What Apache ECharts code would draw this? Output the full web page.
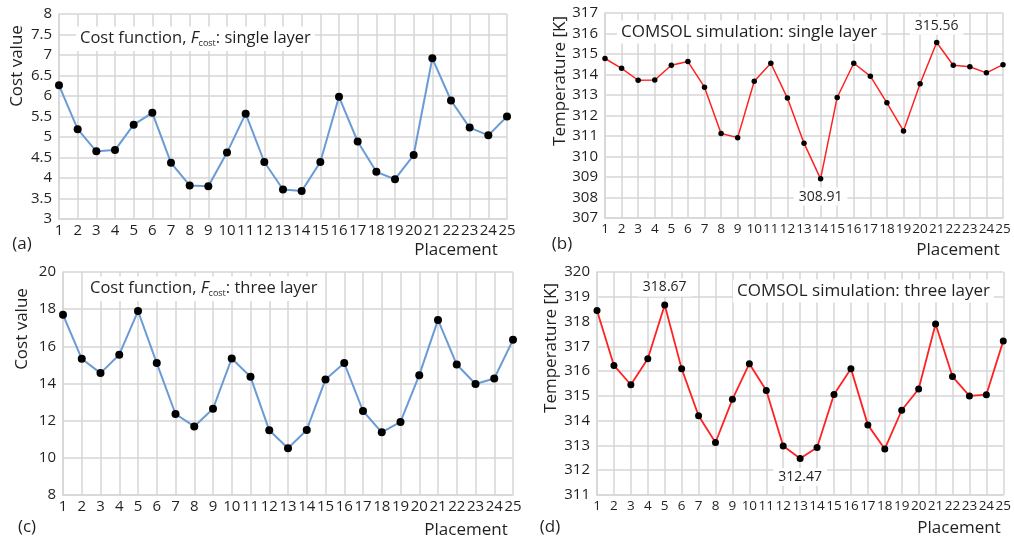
<!DOCTYPE html>
<html>
<head>
<meta charset="utf-8">
<script src="https://cdn.jsdelivr.net/npm/echarts@6/dist/echarts.min.js"></script>
<style>
  html, body { margin: 0; padding: 0; background: #fff; }
  #chart { width: 1014px; height: 538px; }
</style>
</head>
<body>
<div id="chart"></div>
<script>
// ---- data ----
const placements = ['1','2','3','4','5','6','7','8','9','10','11','12','13','14','15','16','17','18','19','20','21','22','23','24','25'];

const costSingle = [6.26, 5.19, 4.65, 4.68, 5.30, 5.59, 4.37, 3.82, 3.80, 4.62, 5.57, 4.39, 3.72, 3.68, 4.39, 5.98, 4.89, 4.15, 3.97, 4.56, 6.92, 5.89, 5.23, 5.04, 5.50];
const tempSingle = [314.78, 314.30, 313.72, 313.73, 314.45, 314.63, 313.38, 311.12, 310.92, 313.67, 314.55, 312.85, 310.65, 308.91, 312.88, 314.55, 313.92, 312.62, 311.25, 313.55, 315.56, 314.45, 314.38, 314.08, 314.48];
const costThree = [17.7, 15.33, 14.56, 15.55, 17.9, 15.1, 12.36, 11.69, 12.64, 15.35, 14.36, 11.48, 10.52, 11.5, 14.22, 15.1, 12.52, 11.37, 11.93, 14.45, 17.42, 15.02, 13.97, 14.27, 16.35];
const tempThree = [318.45, 316.23, 315.45, 316.5, 318.67, 316.1, 314.2, 313.12, 314.86, 316.3, 315.22, 312.98, 312.47, 312.92, 315.06, 316.1, 313.83, 312.86, 314.42, 315.28, 317.9, 315.78, 315.0, 315.05, 317.22];

// indices of annotated values (above / below)
const annotSingleAbove = [20];
const annotSingleBelow = [13];
const annotThreeAbove = [4];
const annotThreeBelow = [12];

const FONT = '"Open Sans", "Noto Sans", sans-serif';
const TXT = '#231f20';
const GRIDC = '#d6d6d6';
const BLUE = '#6a9bd6';
const RED = '#ff2222';

function annotated(values, above, below) {
  return values.map((v, i) => {
    if (above.includes(i) || below.includes(i)) {
      return {
        value: v,
        label: {
          show: true,
          position: above.includes(i) ? 'top' : 'bottom',
          distance: above.includes(i) ? 5 : 6,
          formatter: (p) => p.value.toFixed(2),
          backgroundColor: '#fff',
          padding: [2, 5],
          color: TXT,
          fontFamily: FONT,
          fontSize: 14
        }
      };
    }
    return v;
  });
}

function xAx(gi, fs) {
  return {
    gridIndex: gi, type: 'category', data: placements, boundaryGap: false,
    axisLine: { lineStyle: { color: GRIDC, width: 1.5 } },
    axisTick: { show: false },
    axisLabel: { interval: 0, color: TXT, fontFamily: FONT, fontSize: fs, margin: 4 },
    splitLine: { show: true, lineStyle: { color: GRIDC, width: 1.5 } }
  };
}
function yAx(gi, min, max, interval) {
  return {
    gridIndex: gi, type: 'value', min, max, interval,
    axisLine: { show: true, lineStyle: { color: GRIDC, width: 1.5 } },
    axisTick: { show: false },
    axisLabel: { color: TXT, fontFamily: FONT, fontSize: 15, margin: 7 },
    splitLine: { show: true, lineStyle: { color: GRIDC, width: 1.5 } }
  };
}

const richTitle = {
  n: { fontFamily: FONT, fontSize: 16.5, color: TXT, lineHeight: 20 },
  i: { fontFamily: FONT, fontSize: 16.5, color: TXT, fontStyle: 'italic', lineHeight: 20 },
  s: { fontFamily: FONT, fontSize: 9, color: TXT, lineHeight: 12, verticalAlign: 'bottom' },
  c: { fontFamily: FONT, fontSize: 17, color: TXT, lineHeight: 20 }
};

function titleBox(text, left, top) {
  return {
    text, left, top, backgroundColor: '#fff', padding: [3, 4],
    textStyle: { fontFamily: FONT, fontSize: 16, fontWeight: 'normal', color: TXT, rich: richTitle }
  };
}

function gtext(txt, x, y, size, rot) {
  return {
    type: 'text', x, y, rotation: rot || 0,
    style: { text: txt, fontFamily: FONT, fontSize: size, fill: TXT, textAlign: 'center', textVerticalAlign: 'middle' }
  };
}

const chart = echarts.init(document.getElementById('chart'), null, { renderer: 'canvas' });
chart.setOption({
  backgroundColor: '#fff',
  animation: false,
  grid: [
    { left: 59, top: 14, width: 448, height: 205 },
    { left: 605, top: 13, width: 398, height: 205 },
    { left: 63, top: 272, width: 450, height: 223 },
    { left: 597, top: 272, width: 408, height: 223 }
  ],
  xAxis: [xAx(0, 15), xAx(1, 13.5), xAx(2, 15), xAx(3, 13.5)],
  yAxis: [yAx(0, 3, 8, 0.5), yAx(1, 307, 317, 1), yAx(2, 8, 20, 2), yAx(3, 311, 320, 1)],
  title: [
    titleBox('{n|Cost function, }{i|F}{s|cost}{n|: single layer}', 76, 25),
    titleBox('{c|COMSOL simulation: single layer}', 617, 19),
    titleBox('{n|Cost function, }{i|F}{s|cost}{n|: three layer}', 86, 275),
    titleBox('{c|COMSOL simulation: three layer}', 733, 278)
  ],
  series: [
    { type: 'line', xAxisIndex: 0, yAxisIndex: 0, data: costSingle, symbol: 'circle', symbolSize: 8,
      lineStyle: { color: BLUE, width: 2 }, itemStyle: { color: '#000' } },
    { type: 'line', xAxisIndex: 1, yAxisIndex: 1, data: annotated(tempSingle, annotSingleAbove, annotSingleBelow),
      symbol: 'circle', symbolSize: 5.5, lineStyle: { color: RED, width: 1.5 }, itemStyle: { color: '#000' } },
    { type: 'line', xAxisIndex: 2, yAxisIndex: 2, data: costThree, symbol: 'circle', symbolSize: 8,
      lineStyle: { color: BLUE, width: 2 }, itemStyle: { color: '#000' } },
    { type: 'line', xAxisIndex: 3, yAxisIndex: 3, data: annotated(tempThree, annotThreeAbove, annotThreeBelow),
      symbol: 'circle', symbolSize: 7, lineStyle: { color: RED, width: 1.8 }, itemStyle: { color: '#000' } }
  ],
  graphic: [
    gtext('Cost value', 17, 66, 17, Math.PI / 2),
    gtext('Temperature [K]', 560, 81, 17, Math.PI / 2),
    gtext('Cost value', 22, 329, 17, Math.PI / 2),
    gtext('Temperature [K]', 551, 348, 17, Math.PI / 2),
    gtext('Placement', 456, 250, 17),
    gtext('Placement', 958, 250, 17),
    gtext('Placement', 466, 530, 17),
    gtext('Placement', 959, 528, 17),
    gtext('(a)', 22, 244, 17),
    gtext('(b)', 562, 244, 17),
    gtext('(c)', 27, 527, 17),
    gtext('(d)', 550, 527, 17)
  ]
});
</script>
</body>
</html>
